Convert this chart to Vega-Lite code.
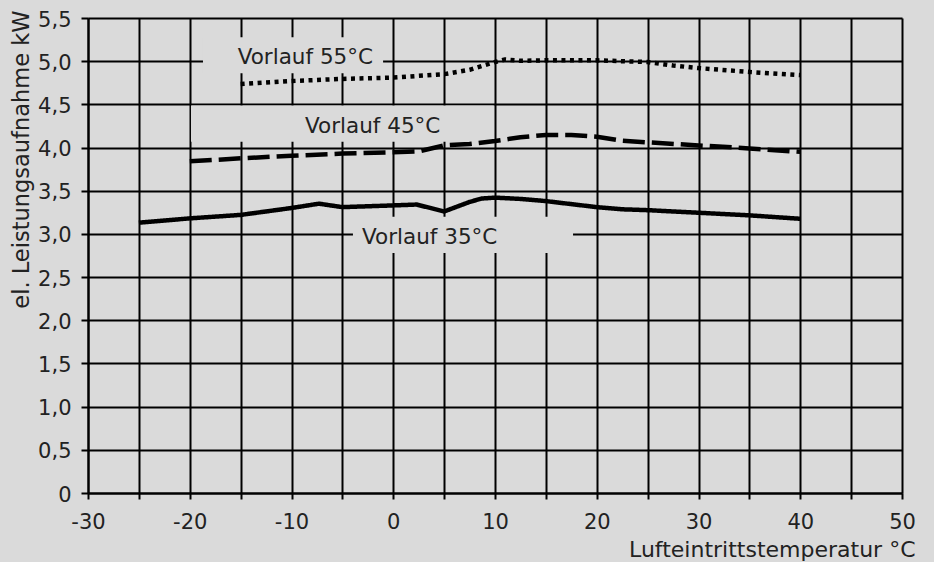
{
  "$schema": "https://vega.github.io/schema/vega-lite/v6.json",
  "width": 814,
  "height": 475,
  "autosize": "none",
  "padding": {"left": 88, "top": 18, "right": 32, "bottom": 69},
  "background": "#dadada",
  "config": {
    "view": {"stroke": null},
    "font": "DejaVu Sans"
  },
  "datasets": {
    "curves": [
      {"series": "35", "t": -25, "p": 3.13},
      {"series": "35", "t": -20, "p": 3.18},
      {"series": "35", "t": -15, "p": 3.22},
      {"series": "35", "t": -10, "p": 3.30},
      {"series": "35", "t": -7.3, "p": 3.35},
      {"series": "35", "t": -5, "p": 3.31},
      {"series": "35", "t": 0, "p": 3.33},
      {"series": "35", "t": 2.3, "p": 3.34},
      {"series": "35", "t": 5, "p": 3.26},
      {"series": "35", "t": 7.5, "p": 3.37},
      {"series": "35", "t": 8.7, "p": 3.41},
      {"series": "35", "t": 10, "p": 3.42},
      {"series": "35", "t": 12.5, "p": 3.405},
      {"series": "35", "t": 15, "p": 3.38},
      {"series": "35", "t": 20, "p": 3.31},
      {"series": "35", "t": 22.5, "p": 3.285},
      {"series": "35", "t": 25, "p": 3.275},
      {"series": "35", "t": 30, "p": 3.245},
      {"series": "35", "t": 35, "p": 3.215},
      {"series": "35", "t": 40, "p": 3.175},
      {"series": "45", "t": -20, "p": 3.84},
      {"series": "45", "t": -15, "p": 3.875},
      {"series": "45", "t": -10, "p": 3.905},
      {"series": "45", "t": -5, "p": 3.93},
      {"series": "45", "t": 0, "p": 3.945},
      {"series": "45", "t": 2.5, "p": 3.955},
      {"series": "45", "t": 5, "p": 4.025},
      {"series": "45", "t": 7.5, "p": 4.04},
      {"series": "45", "t": 10, "p": 4.075},
      {"series": "45", "t": 12.5, "p": 4.12},
      {"series": "45", "t": 15, "p": 4.145},
      {"series": "45", "t": 17.5, "p": 4.145},
      {"series": "45", "t": 20, "p": 4.125},
      {"series": "45", "t": 22.5, "p": 4.08},
      {"series": "45", "t": 25, "p": 4.06},
      {"series": "45", "t": 30, "p": 4.025},
      {"series": "45", "t": 35, "p": 3.99},
      {"series": "45", "t": 40, "p": 3.95},
      {"series": "55", "t": -15, "p": 4.735},
      {"series": "55", "t": -10, "p": 4.77},
      {"series": "55", "t": -5, "p": 4.795},
      {"series": "55", "t": 0, "p": 4.81},
      {"series": "55", "t": 5, "p": 4.85},
      {"series": "55", "t": 7.5, "p": 4.90},
      {"series": "55", "t": 10, "p": 4.99},
      {"series": "55", "t": 11, "p": 5.02},
      {"series": "55", "t": 12.5, "p": 5.005},
      {"series": "55", "t": 15, "p": 5.01},
      {"series": "55", "t": 20, "p": 5.01},
      {"series": "55", "t": 25, "p": 4.99},
      {"series": "55", "t": 27.5, "p": 4.95},
      {"series": "55", "t": 30, "p": 4.92},
      {"series": "55", "t": 35, "p": 4.875},
      {"series": "55", "t": 40, "p": 4.84}
    ],
    "boxes": [
      {"x1": -18.7, "x2": -1.0, "y1": 4.861, "y2": 5.278},
      {"x1": -19.88, "x2": 9.88, "y1": 4.066, "y2": 4.487},
      {"x1": -3.96, "x2": 17.67, "y1": 2.778, "y2": 3.198}
    ],
    "labels": [
      {"label": "Vorlauf 55°C", "x": -15.29, "y": 4.962},
      {"label": "Vorlauf 45°C", "x": -8.67, "y": 4.17},
      {"label": "Vorlauf 35°C", "x": -3.07, "y": 2.882}
    ]
  },
  "layer": [
    {
      "data": {"name": "boxes"},
      "mark": {"type": "rect", "color": "#dadada"},
      "encoding": {
        "x": {
          "field": "x1", "type": "quantitative",
          "scale": {"domain": [-30, 50], "nice": false, "zero": false},
          "axis": {
            "values": [-30, -25, -20, -15, -10, -5, 0, 5, 10, 15, 20, 25, 30, 35, 40, 45, 50],
            "labelExpr": "datum.value % 10 == 0 ? toString(datum.value) : ''",
            "grid": true, "gridColor": "#000", "gridWidth": 2, "gridOpacity": 1,
            "domain": true, "domainColor": "#000", "domainWidth": 2,
            "ticks": true, "tickColor": "#000", "tickWidth": 2, "tickSize": 6,
            "labelFont": "DejaVu Sans", "labelFontSize": 21, "labelColor": "#222",
            "labelPadding": 12, "labelFlush": false, "labelOverlap": false,
            "labelBaseline": "top",
            "title": "Lufteintrittstemperatur °C",
            "titleFont": "DejaVu Sans", "titleFontSize": 22, "titleFontWeight": "normal",
            "titleColor": "#222", "titleX": 827, "titleY": 63,
            "titleAlign": "right", "titleBaseline": "alphabetic"
          }
        },
        "x2": {"field": "x2"},
        "y": {
          "field": "y1", "type": "quantitative",
          "scale": {"domain": [0, 5.5], "nice": false, "zero": false},
          "axis": {
            "values": [0, 0.5, 1, 1.5, 2, 2.5, 3, 3.5, 4, 4.5, 5, 5.5],
            "labelExpr": "datum.value == 0 ? '0' : replace(format(datum.value, '.1f'), '.', ',')",
            "grid": true, "gridColor": "#000", "gridWidth": 2, "gridOpacity": 1,
            "domain": true, "domainColor": "#000", "domainWidth": 2,
            "ticks": true, "tickColor": "#000", "tickWidth": 2, "tickSize": 7,
            "labelFont": "DejaVu Sans", "labelFontSize": 21, "labelColor": "#222",
            "labelPadding": 10, "labelFlush": false, "labelOverlap": false,
            "labelBaseline": "middle", "labelOffset": 2,
            "title": "el. Leistungsaufnahme kW",
            "titleFont": "DejaVu Sans", "titleFontSize": 22.5, "titleFontWeight": "normal",
            "titleColor": "#222", "titleAngle": -90, "titleX": -60, "titleY": -8,
            "titleAlign": "right", "titleBaseline": "alphabetic"
          }
        },
        "y2": {"field": "y2"}
      }
    },
    {
      "data": {"name": "curves"},
      "mark": {"type": "line", "color": "#000", "strokeWidth": 4.5, "strokeJoin": "round"},
      "encoding": {
        "x": {"field": "t", "type": "quantitative"},
        "y": {"field": "p", "type": "quantitative"},
        "detail": {"field": "series"},
        "strokeDash": {
          "field": "series", "type": "nominal",
          "scale": {"domain": ["35", "45", "55"], "range": [[1, 0], [22, 7], [4, 4.5]]},
          "legend": null
        }
      }
    },
    {
      "data": {"name": "labels"},
      "mark": {"type": "text", "font": "DejaVu Sans", "fontSize": 21.5, "color": "#222", "align": "left", "baseline": "alphabetic"},
      "encoding": {
        "x": {"field": "x", "type": "quantitative"},
        "y": {"field": "y", "type": "quantitative"},
        "text": {"field": "label"}
      }
    }
  ]
}
